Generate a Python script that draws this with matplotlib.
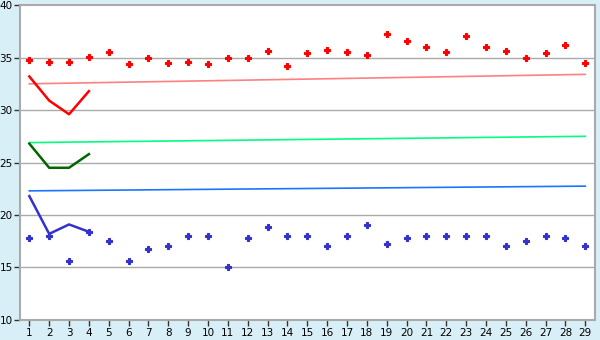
import matplotlib
matplotlib.use("Agg")
import matplotlib.pyplot as plt

days = list(range(1, 30))

red_pts = [34.8, 34.6, 34.6, 35.1, 35.5, 34.4, 35.0, 34.5, 34.6, 34.4,
           35.0, 35.0, 35.6, 34.2, 35.4, 35.7, 35.5, 35.2, 37.2, 36.6,
           36.0, 35.5, 37.1, 36.0, 35.6, 35.0, 35.4, 36.2, 34.5]
blue_pts = [17.8, 18.0, 15.6, 18.4, 17.5, 15.6, 16.8, 17.0, 18.0, 18.0,
            15.0, 17.8, 18.9, 18.0, 18.0, 17.0, 18.0, 19.0, 17.2, 17.8,
            18.0, 18.0, 18.0, 18.0, 17.0, 17.5, 18.0, 17.8, 17.0]

line_days = [1, 2, 3, 4]
red_line = [33.2, 30.9, 29.6, 31.8]
green_line = [26.8, 24.5, 24.5, 25.8]
blue_line = [21.8, 18.2, 19.1, 18.4]

trend_days = [1, 29]
red_trend = [32.5, 33.4]
green_trend = [26.9, 27.5]
blue_trend = [22.3, 22.75]

bg = '#d9eff7'
grid = '#aaaaaa'

fig = plt.figure(figsize=(6, 3.4), dpi=100, facecolor=bg)
ax = fig.add_axes([0.034, 0.059, 0.958, 0.926])
ax.set_facecolor('white')

for y in range(15, 40, 5):
    ax.axhline(y, color=grid, lw=1, zorder=1)

ax.plot(trend_days, red_trend, color='#ff8080', lw=1.2, zorder=2)
ax.plot(trend_days, green_trend, color='#00ff80', lw=1.2, zorder=2)
ax.plot(trend_days, blue_trend, color='#1a75ff', lw=1.2, zorder=2)

ax.plot(line_days, red_line, color='#ff0000', lw=1.8, zorder=3)
ax.plot(line_days, green_line, color='#006600', lw=1.8, zorder=3)
ax.plot(line_days, blue_line, color='#3333cc', lw=1.8, zorder=3)

# fat little crosses like the original markers
for vals, c in [(red_pts, '#ff0000'), (blue_pts, '#3333cc')]:
    ax.plot(days, vals, ls='none', marker='P', ms=4.5, mew=0.8,
            color=c, mec=c, zorder=4)

ax.set_xlim(0.55, 29.5)
ax.set_ylim(10, 40)
ax.set_xticks(days)
ax.set_yticks(range(10, 41, 5))
ax.tick_params(axis='both', length=4, width=1, color='#333333',
               labelsize=7.5, pad=1.5, labelcolor='black')
for s in ax.spines.values():
    s.set_color(grid)
    s.set_linewidth(1.5)

fig.savefig('out.png', dpi=100, facecolor=bg)
